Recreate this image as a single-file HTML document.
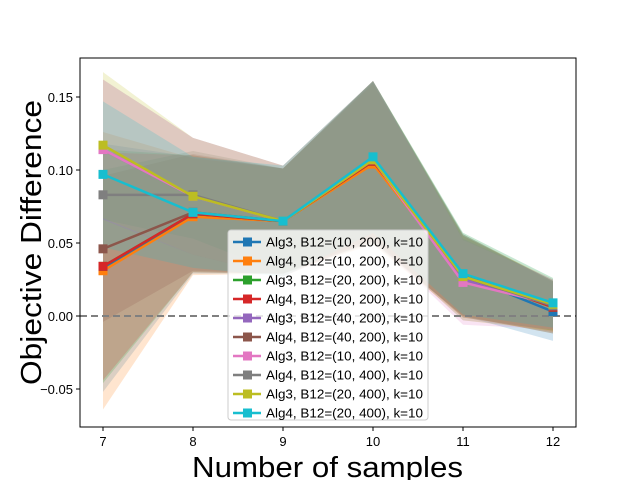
<!DOCTYPE html>
<html><head><meta charset="utf-8"><style>body{margin:0;background:#fff}svg{display:block;font-family:"Liberation Sans",sans-serif}</style></head>
<body>
<svg id="c" width="640" height="480"></svg>
<script>
const xs=[7,8,9,10,11,12];
const names=["Alg3, B12=(10, 200), k=10","Alg4, B12=(10, 200), k=10","Alg3, B12=(20, 200), k=10","Alg4, B12=(20, 200), k=10","Alg3, B12=(40, 200), k=10","Alg4, B12=(40, 200), k=10","Alg3, B12=(10, 400), k=10","Alg4, B12=(10, 400), k=10","Alg3, B12=(20, 400), k=10","Alg4, B12=(20, 400), k=10"];
const colors=["#1f77b4","#ff7f0e","#2ca02c","#d62728","#9467bd","#8c564b","#e377c2","#7f7f7f","#bcbd22","#17becf"];
const meanBlue=[0.033,0.069,0.065,0.105,0.028,0.003];
const meanOrange=[0.031,0.068,0.065,0.104,0.027,0.007];
const meanGreen=[0.034,0.070,0.065,0.106,0.028,0.006];
const meanRed=[0.034,0.070,0.065,0.106,0.028,0.006];
const meanPurple=[0.114,0.082,0.065,0.107,0.025,0.008];
const meanBrown=[0.046,0.071,0.065,0.107,0.027,0.007];
const meanPink=[0.114,0.082,0.065,0.107,0.023,0.008];
const meanGray=[0.083,0.083,0.065,0.107,0.027,0.007];
const meanOlive=[0.117,0.082,0.065,0.107,0.027,0.008];
const meanCyan=[0.097,0.071,0.065,0.109,0.029,0.009];
const stdBlue=[0.085,0.040,0.036,0.055,0.028,0.020];
const stdOrange=[0.095,0.040,0.036,0.055,0.028,0.018];
const stdGreen=[0.080,0.040,0.036,0.055,0.028,0.018];
const stdRed=[0.078,0.040,0.036,0.055,0.028,0.018];
const stdPurple=[0.048,0.040,0.038,0.054,0.028,0.017];
const stdBrown=[0.050,0.040,0.036,0.054,0.028,0.017];
const stdPink=[0.048,0.040,0.038,0.054,0.029,0.017];
const stdGray=[0.017,0.030,0.036,0.054,0.028,0.017];
const stdOlive=[0.050,0.040,0.038,0.054,0.030,0.018];
const stdCyan=[0.050,0.038,0.038,0.052,0.028,0.017];
const means=[meanBlue,meanOrange,meanGreen,meanRed,meanPurple,meanBrown,meanPink,meanGray,meanOlive,meanCyan];
const stds=[stdBlue,stdOrange,stdGreen,stdRed,stdPurple,stdBrown,stdPink,stdGray,stdOlive,stdCyan];
const xticks=[7,8,9,10,11,12];
const yticks=[-0.05,0,0.05,0.1,0.15];
const yLabels=["−0.05","0.00","0.05","0.10","0.15"];
const L=80,R=576,T=58,B=427;
const X=v=>103+(v-7)*90;
const Y=v=>316-v*1460;
const s=document.getElementById('c');const NS="http://www.w3.org/2000/svg";
function mk(t,a,p){const e=document.createElementNS(NS,t);for(const k in a)e.setAttribute(k,a[k]);(p||s).appendChild(e);return e;}
const clip=mk('clipPath',{id:'cp'});mk('rect',{x:L,y:T,width:R-L,height:B-T},clip);
const g=mk('g',{'clip-path':'url(#cp)'});
means.forEach((m,i)=>{const sd=stds[i];
 let d=xs.map((x,j)=>(j?'L':'M')+X(x)+','+Y(m[j]+sd[j])).join('')+xs.slice().reverse().map((x,jj)=>{const j=xs.length-1-jj;return 'L'+X(x)+','+Y(m[j]-sd[j]);}).join('')+'Z';
 const p=mk('path',{d,fill:colors[i],'fill-opacity':0.2},g);
 
 });
const zl=mk('line',{x1:L,x2:R,y1:Y(0),y2:Y(0),stroke:'#808080','stroke-width':2,'stroke-dasharray':'7,4'},g);


means.forEach((m,i)=>{
 const pl=mk('polyline',{points:xs.map((x,j)=>X(x)+','+Y(m[j])).join(' '),fill:'none',stroke:colors[i],'stroke-width':2.5},g);
 
 
 xs.forEach((x,j)=>{const r=mk('rect',{x:X(x)-4.5,y:Y(m[j])-4.5,width:9,height:9,fill:colors[i]},g);
 
 });});
const fr=mk('rect',{x:L,y:T,width:R-L,height:B-T,fill:'none',stroke:'#000','stroke-width':1});


xticks.forEach(v=>{mk('line',{x1:X(v),x2:X(v),y1:B,y2:B+4,stroke:'#000'});
 const t=mk('text',{x:X(v),y:B+19,'text-anchor':'middle','font-size':13});t.textContent=v;
 
 });
yticks.forEach((v,i)=>{mk('line',{x1:L-4,x2:L,y1:Y(v),y2:Y(v),stroke:'#000'});
 const t=mk('text',{x:L-7,y:Y(v)+5,'text-anchor':'end','font-size':13});t.textContent=yLabels[i];
 
 });
const xl=mk('text',{x:192,y:477,'font-size':29,textLength:271,lengthAdjust:'spacingAndGlyphs'});xl.textContent='Number of samples';


const yl=mk('text',{x:-142,y:0,'font-size':29,textLength:285,lengthAdjust:'spacingAndGlyphs',transform:'translate(41,243) rotate(-90)'});yl.textContent='Objective Difference';


const lg=mk('g',{});


mk('rect',{x:228,y:230,width:200,height:190,rx:3,fill:'#fff','fill-opacity':0.8,stroke:'#ccc'},lg);
names.forEach((n,i)=>{const y=242+i*19;
 mk('line',{x1:233,x2:261,y1:y,y2:y,stroke:colors[i],'stroke-width':2.5},lg);
 mk('rect',{x:243,y:y-4.5,width:9,height:9,fill:colors[i]},lg);
 const t=mk('text',{x:266,y:y+4.5,'font-size':12.5,textLength:157,lengthAdjust:'spacingAndGlyphs'},lg);t.textContent=n;
 
 });
</script>
</body></html>
